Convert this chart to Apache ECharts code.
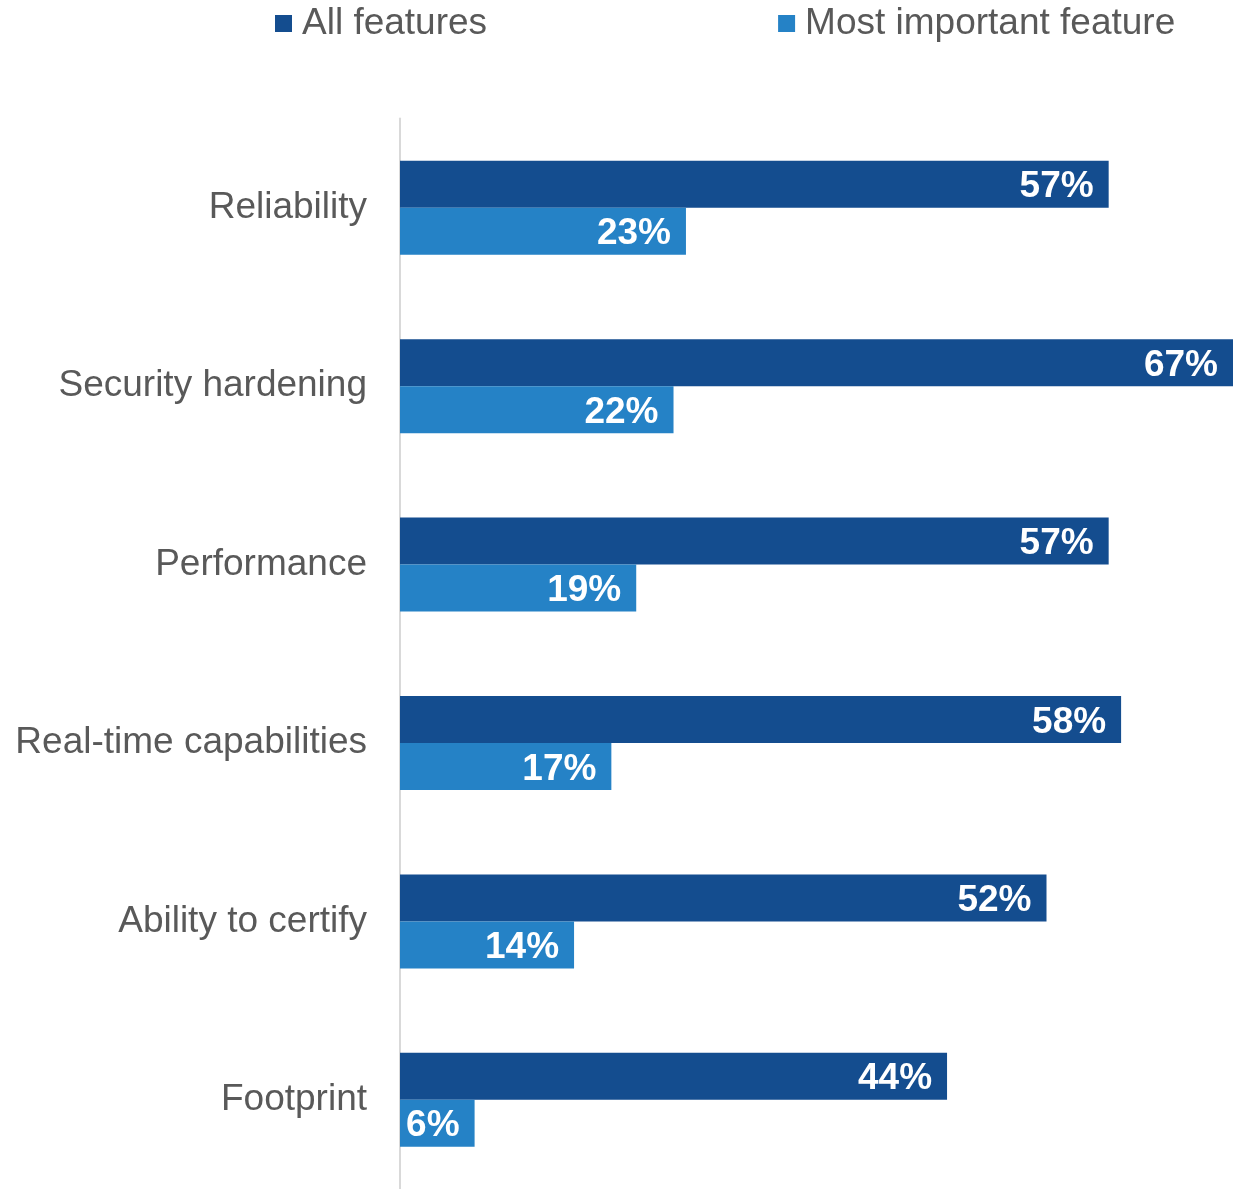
<!DOCTYPE html>
<html>
<head>
<meta charset="utf-8">
<script src="https://cdn.jsdelivr.net/npm/echarts@6/dist/echarts.min.js"></script>
<style>
  html, body { margin: 0; padding: 0; background: #ffffff; }
  #chart { width: 1233px; height: 1189px; }
</style>
</head>
<body>
<div id="chart"></div>
<script>
const categories = ['Reliability', 'Security hardening', 'Performance', 'Real-time capabilities', 'Ability to certify', 'Footprint'];
const allFeatures = [57, 67, 57, 58, 52, 44];
const mostImportant = [23, 22, 19, 17, 14, 6];
const seriesNames = ['All features', 'Most important feature'];

const FONT = '"Liberation Sans", Arial, sans-serif';

const valueLabel = {
  show: true,
  position: 'insideRight',
  distance: 15,
  offset: [0, 3],
  formatter: '{c}%',
  color: '#ffffff',
  fontFamily: FONT,
  fontWeight: 'bold',
  fontSize: 37
};

const chart = echarts.init(document.getElementById('chart'), null, { renderer: 'canvas' });
chart.setOption({
  animation: false,
  backgroundColor: '#ffffff',
  legend: {
    top: 5,
    left: 275,
    padding: 0,
    itemWidth: 17,
    itemHeight: 17,
    itemGap: 291,
    icon: 'rect',
    textStyle: {
      fontFamily: FONT,
      fontSize: 37,
      color: '#595959',
      padding: [0, 0, 0, 5]
    },
    data: seriesNames
  },
  grid: { left: 400, right: 0, top: 118.5, height: 1075 },
  xAxis: {
    type: 'value',
    min: 0,
    max: 67,
    show: false
  },
  yAxis: {
    type: 'category',
    inverse: true,
    data: categories,
    axisLine: { show: true, lineStyle: { color: '#d9d9d9', width: 2 } },
    axisTick: { show: false },
    axisLabel: {
      margin: 33,
      fontFamily: FONT,
      fontSize: 37,
      color: '#595959'
    }
  },
  series: [
    {
      name: seriesNames[0],
      type: 'bar',
      data: allFeatures,
      barWidth: 47,
      barGap: 0,
      itemStyle: { color: '#144d8f' },
      label: valueLabel
    },
    {
      name: seriesNames[1],
      type: 'bar',
      data: mostImportant,
      barWidth: 47,
      barGap: 0,
      itemStyle: { color: '#2582c6' },
      label: valueLabel
    }
  ]
});
</script>
</body>
</html>
